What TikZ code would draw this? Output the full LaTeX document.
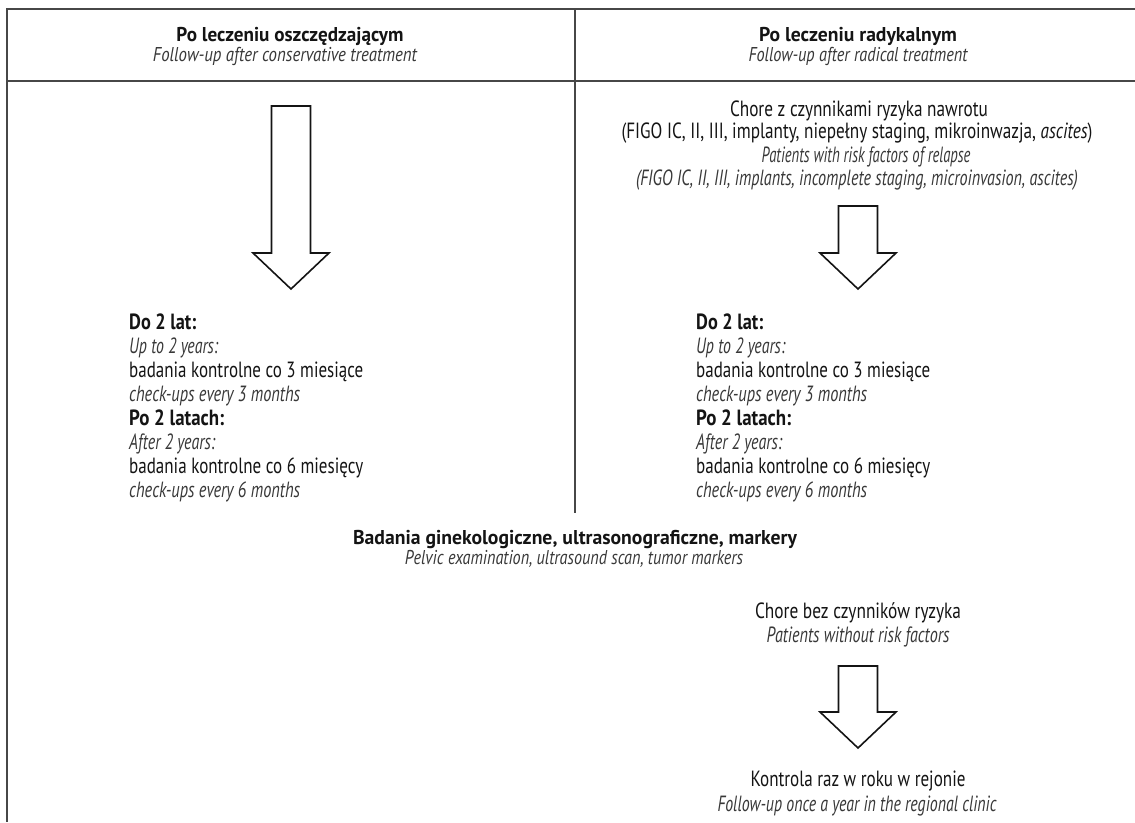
\documentclass[tikz,border=0pt]{standalone}
\usepackage{fontspec}
\usepackage{graphicx}
\setmainfont{PT Sans}
\newcommand\fitw[2]{\resizebox{#1pt}{\height}{#2}}
\begin{document}
\begin{tikzpicture}[x=1pt,y=-1pt,
  frame/.style={draw=black!72,line width=1.4pt},
  arrowline/.style={draw=black!92,line width=1.6pt,fill=white,line join=miter},
  txt/.style={inner sep=0pt,font=\fontsize{22}{24}\selectfont,text=black!92},
  pl/.style={txt,anchor=base},
  plw/.style={txt,anchor=base west},
  bf/.style={font=\fontsize{22}{24}\selectfont\bfseries},
  it/.style={font=\fontsize{22}{24}\selectfont\itshape,text=black!78},
  small/.style={font=\fontsize{20}{22}\selectfont},
  bfs/.style={font=\fontsize{20}{22}\selectfont\bfseries},
  its/.style={font=\fontsize{20}{22}\selectfont\itshape,text=black!78},
  pics/bigarrow/.style={code={
    \draw[arrowline] (-19.5,0) -- (19.5,0) -- (19.5,#1) -- (38,#1) -- (0,#1+36)
      -- (-38,#1) -- (-19.5,#1) -- cycle;}}
]
\useasboundingbox (0,0) rectangle (1135,822);
% frame
\coordinate (tl) at (7,9);
\coordinate (tr) at (1135,9);
\coordinate (bl) at (7,822);
\coordinate (sl) at (7,81);
\coordinate (sr) at (1135,81);
\coordinate (mt) at (575,9);
\coordinate (mb) at (575,513);
\draw[frame] (tr) -- (tl) -- (bl);
\draw[frame] (sl) -- (sr);
\draw[frame] (mt) -- (mb);

% headers
\node[pl,bfs] (h1) at (290,41) {\fitw{227}{Po leczeniu oszczędzającym}};
\node[pl,its] (h1s) at (285,61) {\fitw{264}{Follow-up after conservative treatment}};
\node[pl,bfs] (h2) at (858,41) {\fitw{198}{Po leczeniu radykalnym}};
\node[pl,its] (h2s) at (858,61) {\fitw{219}{Follow-up after radical treatment}};

% risk block
\node[pl] (r1) at (859,116) {\fitw{258}{Chore z czynnikami ryzyka nawrotu}};
\node[pl] (r2) at (857,138) {\fitw{471}{(FIGO IC, II, III, implanty, niepełny staging, mikroinwazja, \textit{ascites})}};
\node[pl,it] (r3) at (866,162) {\fitw{209}{Patients with risk factors of relapse}};
\node[pl,it] (r4) at (857,185) {\fitw{442}{(FIGO IC, II, III, implants, incomplete staging, microinvasion, ascites)}};

% arrows
\pic at (291,106) {bigarrow=147};
\pic at (858,206) {bigarrow=47};
\pic at (858,666) {bigarrow=46};

% left schedule
\node[plw,bf] (a1) at (129,329) {\fitw{67}{Do 2 lat:}};
\node[plw,it] (a2) at (129,353) {\fitw{89}{Up to 2 years:}};
\node[plw] (a3) at (129,377) {\fitw{234}{badania kontrolne co 3 miesiące}};
\node[plw,it] (a4) at (129,401) {\fitw{171}{check-ups every 3 months}};
\node[plw,bf] (a5) at (129,425) {\fitw{95}{Po 2 latach:}};
\node[plw,it] (a6) at (129,449) {\fitw{86}{After 2 years:}};
\node[plw] (a7) at (129,473) {\fitw{234}{badania kontrolne co 6 miesięcy}};
\node[plw,it] (a8) at (129,497) {\fitw{171}{check-ups every 6 months}};

% right schedule
\node[plw,bf] (b1) at (696,329) {\fitw{67}{Do 2 lat:}};
\node[plw,it] (b2) at (696,353) {\fitw{89}{Up to 2 years:}};
\node[plw] (b3) at (696,377) {\fitw{234}{badania kontrolne co 3 miesiące}};
\node[plw,it] (b4) at (696,401) {\fitw{171}{check-ups every 3 months}};
\node[plw,bf] (b5) at (696,425) {\fitw{95}{Po 2 latach:}};
\node[plw,it] (b6) at (696,449) {\fitw{86}{After 2 years:}};
\node[plw] (b7) at (696,473) {\fitw{234}{badania kontrolne co 6 miesięcy}};
\node[plw,it] (b8) at (696,497) {\fitw{171}{check-ups every 6 months}};

% common
\node[pl,bfs] (c1) at (575,544) {\fitw{444}{Badania ginekologiczne, ultrasonograficzne, markery}};
\node[pl,its] (c2) at (574,564) {\fitw{338}{Pelvic examination, ultrasound scan, tumor markers}};

% no risk
\node[pl] (n1) at (858,618) {\fitw{206}{Chore bez czynników ryzyka}};
\node[pl,it] (n2) at (858,642) {\fitw{183}{Patients without risk factors}};
\node[pl] (k1) at (858,786) {\fitw{215}{Kontrola raz w roku w rejonie}};
\node[pl,it] (k2) at (857,811) {\fitw{279}{Follow-up once a year in the regional clinic}};
\end{tikzpicture}
\end{document}
